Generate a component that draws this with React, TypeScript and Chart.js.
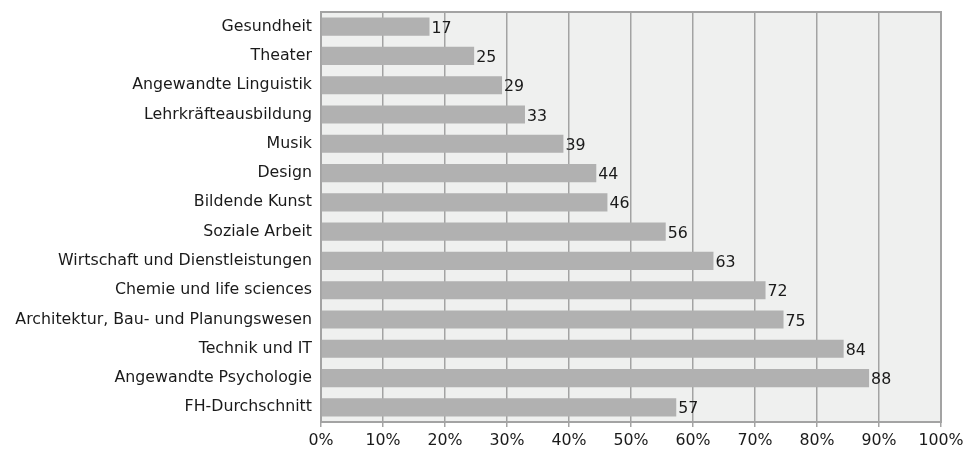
import React, { useEffect, useRef } from "react";
import { Chart, registerables } from "chart.js";

Chart.register(...registerables);

const categories = [
  "Gesundheit",
  "Theater",
  "Angewandte Linguistik",
  "Lehrkräfteausbildung",
  "Musik",
  "Design",
  "Bildende Kunst",
  "Soziale Arbeit",
  "Wirtschaft und Dienstleistungen",
  "Chemie und life sciences",
  "Architektur, Bau- und Planungswesen",
  "Technik und IT",
  "Angewandte Psychologie",
  "FH-Durchschnitt",
];

const values = [17.5, 24.7, 29.2, 32.9, 39.1, 44.4, 46.2, 55.6, 63.3, 71.7, 74.6, 84.3, 88.4, 57.3];
const valueLabels = ["17", "25", "29", "33", "39", "44", "46", "56", "63", "72", "75", "84", "88", "57"];
const xTicks = [0, 10, 20, 30, 40, 50, 60, 70, 80, 90, 100];

const FONT = "'DejaVu Sans', sans-serif";
const FONT_SIZE = 15.8;
const TEXT = "#1a1a1a";

const framePlugin = {
  id: "frame",
  beforeDraw(chart: any) {
    const { ctx, chartArea } = chart;
    ctx.save();
    ctx.fillStyle = "#eff0ef";
    ctx.fillRect(chartArea.left, chartArea.top, chartArea.right - chartArea.left, chartArea.bottom - chartArea.top);
    ctx.restore();
  },
  beforeDatasetsDraw(chart: any) {
    const { ctx, chartArea } = chart;
    ctx.save();
    ctx.strokeStyle = "#a3a3a3";
    ctx.lineWidth = 2;
    ctx.strokeRect(chartArea.left, chartArea.top, chartArea.right - chartArea.left, chartArea.bottom - chartArea.top);
    ctx.restore();
  },
};

const labelPlugin = {
  id: "barLabels",
  afterDatasetsDraw(chart: any) {
    const { ctx } = chart;
    const meta = chart.getDatasetMeta(0);
    ctx.save();
    ctx.font = `${FONT_SIZE}px ${FONT}`;
    ctx.fillStyle = TEXT;
    ctx.textAlign = "left";
    ctx.textBaseline = "middle";
    meta.data.forEach((bar: any, i: number) => {
      ctx.fillText(valueLabels[i], bar.x + 2, bar.y + 2);
    });
    ctx.restore();
  },
};

export default function App() {
  const ref = useRef<HTMLCanvasElement>(null);
  useEffect(() => {
    document.body.style.margin = "0";
    const chart = new Chart(ref.current!, {
      type: "bar",
      data: {
        labels: categories,
        datasets: [
          {
            data: values,
            backgroundColor: "#b1b1b1",
            borderWidth: 0,
            barPercentage: 0.62,
            categoryPercentage: 1,
          },
        ],
      },
      options: {
        indexAxis: "y",
        animation: false,
        responsive: false,
        maintainAspectRatio: false,
        layout: { padding: { left: 0, right: 23, top: 12, bottom: 0 } },
        plugins: { legend: { display: false }, tooltip: { enabled: false } },
        scales: {
          x: {
            min: 0,
            max: 100,
            afterBuildTicks: (scale: any) => {
              scale.ticks = xTicks.map((v) => ({ value: v }));
            },
            afterFit: (scale: any) => {
              scale.height = 30;
              scale.paddingLeft = 0;
              scale.paddingRight = 0;
            },
            grid: { color: "#a3a3a3", lineWidth: 1.5, drawTicks: true, tickLength: 5 },
            border: { display: false },
            ticks: {
              font: { family: FONT, size: FONT_SIZE },
              color: TEXT,
              padding: 4,
              maxRotation: 0,
              callback: (v: any) => `${v}%`,
            },
          },
          y: {
            afterFit: (scale: any) => {
              scale.width = 321;
              scale.paddingTop = 0;
              scale.paddingBottom = 0;
            },
            grid: { display: false, drawTicks: false },
            border: { display: false },
            ticks: {
              font: { family: FONT, size: FONT_SIZE },
              color: TEXT,
              padding: 9,
              autoSkip: false,
            },
          },
        },
      },
      plugins: [framePlugin, labelPlugin],
    });
    return () => chart.destroy();
  }, []);
  return (
    <div style={{ width: 964, height: 452 }}>
      <canvas ref={ref} width={964} height={452} style={{ width: 964, height: 452, display: "block" }} />
    </div>
  );
}
